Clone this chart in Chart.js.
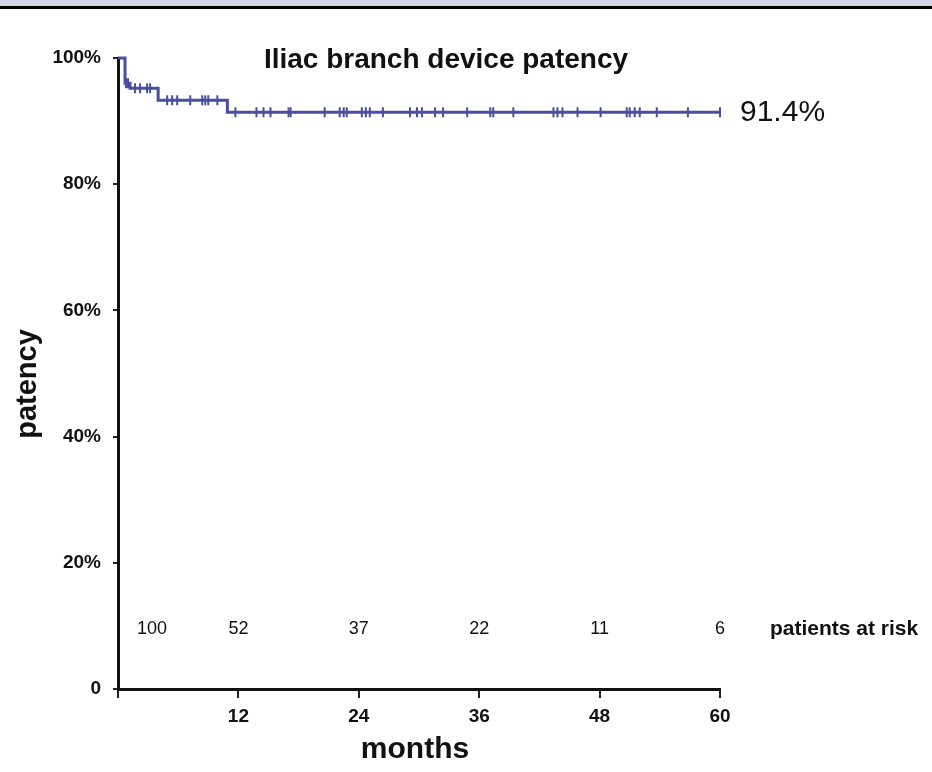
<!DOCTYPE html>
<html><head><meta charset="utf-8">
<script src="https://cdn.jsdelivr.net/npm/chart.js@4"></script>
<style>html,body{margin:0;padding:0;background:#fff}#wrap{width:932px;height:772px}</style>
</head><body><div id="wrap"><canvas id="c" width="932" height="772"></canvas></div>
<script>
// Kaplan-Meier step curve (months, patency %)
const stepTimes  = [0, 0.7, 1.2, 4.0, 10.9, 60];
const stepValues = [100, 96.0, 95.2, 93.3, 91.4, 91.4];
// censored observations (months, patency %)
const censorTimes  = [0.8, 1.0, 1.7, 2.2, 2.9, 3.2,
  4.9, 5.4, 5.9, 7.2, 8.4, 8.7, 9.0, 9.9,
  11.7, 13.8, 14.5, 15.2, 17.0, 17.2, 20.6, 22.1, 22.5, 22.8, 24.3, 24.7, 25.1, 26.4,
  29.1, 29.8, 30.3, 31.6, 32.4, 34.8, 37.1, 37.4, 39.4, 43.4, 43.8, 44.3, 45.8, 48.1,
  50.7, 51.0, 51.5, 52.0, 53.7, 56.8, 60];
const censorValues = [96.0, 96.0, 95.2, 95.2, 95.2, 95.2,
  93.3, 93.3, 93.3, 93.3, 93.3, 93.3, 93.3, 93.3,
  91.4, 91.4, 91.4, 91.4, 91.4, 91.4, 91.4, 91.4, 91.4, 91.4, 91.4, 91.4, 91.4, 91.4,
  91.4, 91.4, 91.4, 91.4, 91.4, 91.4, 91.4, 91.4, 91.4, 91.4, 91.4, 91.4, 91.4, 91.4,
  91.4, 91.4, 91.4, 91.4, 91.4, 91.4, 91.4];
const xTicks = [0, 12, 24, 36, 48, 60];
const yTicks = [0, 20, 40, 60, 80, 100];
const riskMonths = [0, 12, 24, 36, 48, 60];
const riskCounts = [100, 52, 37, 22, 11, 6];
const titleText = 'Iliac branch device patency';
const finalLabel = '91.4%';
const riskLabel = 'patients at risk';
const xTitle = 'months';
const yTitle = 'patency';

const FONT = '"Liberation Sans", Arial, Helvetica, sans-serif';
const LINE = '#4a4e9e';

const extras = {
  id: 'extras',
  beforeDraw(chart) {
    const ctx = chart.ctx;
    ctx.save();
    ctx.fillStyle = '#d3d5e8';
    ctx.fillRect(0, 0, chart.width, 6);
    ctx.fillStyle = '#000';
    ctx.fillRect(0, 6, chart.width, 3);
    ctx.restore();
  },
  afterDraw(chart) {
    const ctx = chart.ctx, xs = chart.scales.x;
    ctx.save();
    ctx.fillStyle = '#111';
    ctx.textBaseline = 'middle';
    // title
    ctx.font = 'bold 28px ' + FONT;
    ctx.textAlign = 'center';
    ctx.fillText(titleText, 446, 60);
    // final value
    ctx.font = '30px ' + FONT;
    ctx.textAlign = 'left';
    ctx.fillText(finalLabel, 740, 113);
    // at-risk
    ctx.font = '18px ' + FONT;
    ctx.textAlign = 'center';
    riskMonths.forEach((m, i) => {
      const px = xs.getPixelForValue(m) + (m === 0 ? 34 : 0);
      ctx.fillText(String(riskCounts[i]), px, 629);
    });
    ctx.font = 'bold 21px ' + FONT;
    ctx.textAlign = 'left';
    ctx.fillText(riskLabel, 770, 629);
    // axis titles
    ctx.font = 'bold 30px ' + FONT;
    ctx.textAlign = 'center';
    ctx.fillText(xTitle, 415, 750);
    ctx.translate(28, 384);
    ctx.rotate(-Math.PI / 2);
    ctx.font = 'bold 29px ' + FONT;
    ctx.fillText(yTitle, 0, 0);
    ctx.restore();
  }
};

new Chart(document.getElementById('c'), {
  type: 'line',
  data: {
    datasets: [
      {
        data: stepTimes.map((t, i) => ({x: t, y: stepValues[i]})),
        stepped: 'before',
        borderColor: LINE,
        borderWidth: 3,
        pointRadius: 0,
        clip: false,
        order: 2
      },
      {
        data: censorTimes.map((t, i) => ({x: t, y: censorValues[i]})),
        showLine: false,
        pointStyle: 'line',
        rotation: 90,
        pointRadius: 5,
        pointBorderWidth: 2,
        pointBorderColor: LINE,
        pointBackgroundColor: LINE,
        clip: false,
        order: 1
      }
    ]
  },
  options: {
    responsive: false,
    animation: false,
    devicePixelRatio: 1,
    layout: {padding: {top: 58, right: 212, left: 0, bottom: 0}},
    plugins: {legend: {display: false}, tooltip: {enabled: false}, title: {display: false}},
    scales: {
      x: {
        type: 'linear', min: 0, max: 60,
        afterBuildTicks: s => { s.ticks = xTicks.map(v => ({value: v})); },
        afterFit: s => { s.height = 83; },
        ticks: {
          callback: v => v === 0 ? '' : String(v),
          font: {family: FONT, size: 19, weight: 'bold'},
          color: '#111', padding: 7, maxRotation: 0
        },
        grid: {drawOnChartArea: false, drawTicks: true, tickLength: 9, color: '#222', lineWidth: 2},
        border: {display: true, color: '#111', width: 3}
      },
      y: {
        type: 'linear', min: 0, max: 100,
        afterBuildTicks: s => { s.ticks = yTicks.map(v => ({value: v})); },
        afterFit: s => { s.width = 118; },
        ticks: {
          callback: v => v === 0 ? '0' : v + '%',
          font: {family: FONT, size: 19, weight: 'bold'},
          color: '#111', padding: 12
        },
        grid: {drawOnChartArea: false, drawTicks: true, tickLength: 5, color: '#222', lineWidth: 2},
        border: {display: true, color: '#111', width: 3}
      }
    }
  },
  plugins: [extras]
});
</script>
</body></html>
